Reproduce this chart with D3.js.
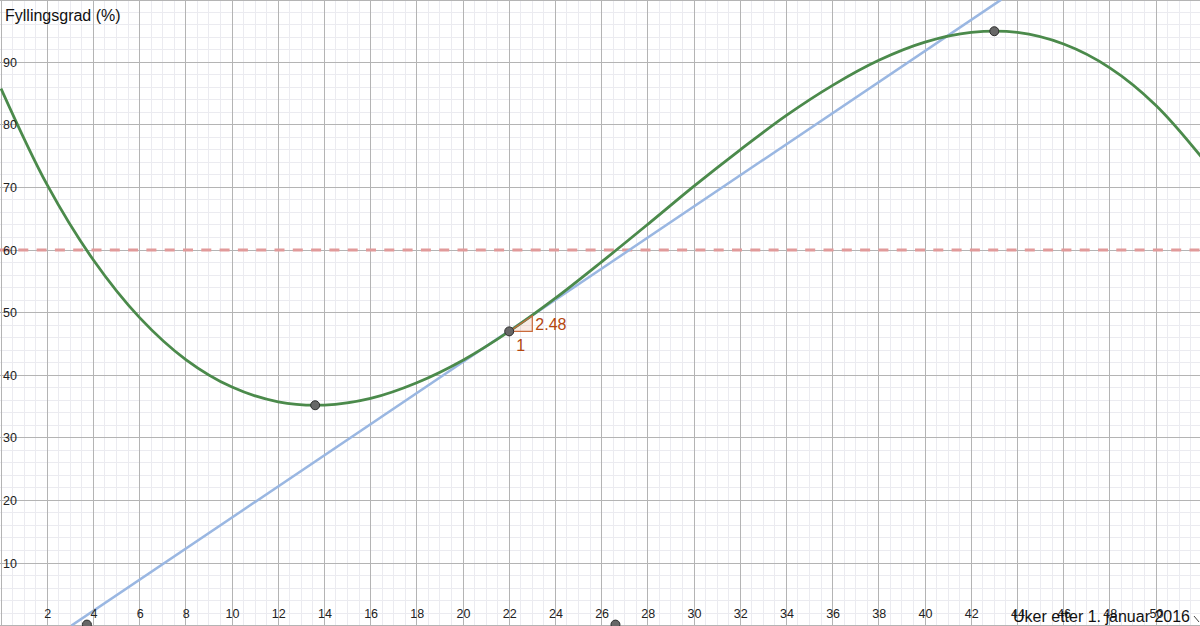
<!DOCTYPE html>
<html><head><meta charset="utf-8">
<script src="https://cdn.jsdelivr.net/npm/d3@7"></script>
<style>
html,body{margin:0;padding:0;background:#fff;}
svg{display:block;font-family:"Liberation Sans",Arial,Helvetica,sans-serif;}
</style></head>
<body>
<svg id="chart" width="1200" height="626"></svg>
<script>
// ---- data ----
const weeks = [0,2,4,6,8,10,12,14,16,18,20,22,24,26,28,30,32,34,36,38,40,42,44,46,48,50,52];
const fillGrade = [85.8,70.4,58.4,49.2,42.5,38.1,35.75,35.23,36.3,38.8,42.4,47.0,52.3,58.1,64.1,70.2,76.0,81.5,86.3,90.3,93.2,94.75,94.75,92.9,89.1,83.1,74.7];
const markX = [13.6, 22, 43, 3.72, 26.6];
const markY = [35.2, 47, 94.95, 0, 0];
const tangentX = [3.05, 43.3];
const tangentY = [0, 100];
const tangentPoint = [22, 47];
const slopeValue = 2.48;
const thresholdValue = 60;
const xTickValues = [2,4,6,8,10,12,14,16,18,20,22,24,26,28,30,32,34,36,38,40,42,44,46,48,50];
const yTickValues = [10,20,30,40,50,60,70,80,90];
const xTitle = "Uker etter 1. januar 2016";
const yTitle = "Fyllingsgrad (%)";

const W = 1200, H = 626;
const svg = d3.select("#chart");
const x = d3.scaleLinear().domain([0, 52]).range([1, 1202.2]);
const y = d3.scaleLinear().domain([0, 100]).range([625.6, -0.4]);

svg.append("defs").append("clipPath").attr("id","clip")
  .append("rect").attr("x",0).attr("y",0).attr("width",W).attr("height",H);

const g = svg.append("g").attr("clip-path","url(#clip)");

// minor grid
const xMinor = d3.range(0, 52.01, 0.5);
const yMinor = d3.range(0, 100.01, 2);
g.append("g").selectAll("line").data(xMinor).join("line")
  .attr("x1", d=>x(d)).attr("x2", d=>x(d)).attr("y1",0).attr("y2",H)
  .attr("stroke","#ebebf0").attr("stroke-width",1).attr("shape-rendering","crispEdges");
g.append("g").selectAll("line").data(yMinor).join("line")
  .attr("y1", d=>y(d)).attr("y2", d=>y(d)).attr("x1",0).attr("x2",W)
  .attr("stroke","#ebebf0").attr("stroke-width",1).attr("shape-rendering","crispEdges");
// major grid
const xMajor = d3.range(0, 52.01, 2);
const yMajor = d3.range(0, 100.01, 10);
g.append("g").selectAll("line").data(xMajor).join("line")
  .attr("x1", d=>x(d)).attr("x2", d=>x(d)).attr("y1",0).attr("y2",H)
  .attr("stroke","#b4b4b4").attr("stroke-width",1).attr("shape-rendering","crispEdges");
g.append("g").selectAll("line").data(yMajor).join("line")
  .attr("y1", d=>y(d)).attr("y2", d=>y(d)).attr("x1",0).attr("x2",W)
  .attr("stroke","#b4b4b4").attr("stroke-width",1).attr("shape-rendering","crispEdges");

// top border
g.append("line").attr("x1",0).attr("x2",W).attr("y1",0.5).attr("y2",0.5)
  .attr("stroke","#b4b4b4");

// axes (tick labels via d3 axes)
const yAxis = d3.axisRight(y).tickValues(yTickValues).tickSize(0).tickPadding(0).tickFormat(d3.format("d"));
const yG = svg.append("g").attr("transform","translate(3,0)").call(yAxis);
yG.select(".domain").remove();
yG.selectAll("text").attr("font-size",12.5).attr("fill","#222").attr("font-family","Liberation Sans, Arial, sans-serif");

const xAxis = d3.axisBottom(x).tickValues(xTickValues).tickSize(0).tickPadding(0).tickFormat(d3.format("d"));
const xG = svg.append("g").attr("transform","translate(0,609)").call(xAxis);
xG.select(".domain").remove();
xG.selectAll("text").attr("font-size",12.5).attr("fill","#222").attr("dy","0.71em").attr("font-family","Liberation Sans, Arial, sans-serif");

// threshold dashed line
g.append("line").attr("x1",0).attr("x2",W)
  .attr("y1", y(thresholdValue)).attr("y2", y(thresholdValue))
  .attr("stroke","#e19a9a").attr("stroke-width",3).attr("stroke-dasharray","10,8.3");

// tangent line
const tangentData = tangentX.map((d,i)=>[d, tangentY[i]]);
g.append("path").datum(tangentData)
  .attr("d", d3.line().x(d=>x(d[0])).y(d=>y(d[1])))
  .attr("stroke","#9ab7e2").attr("stroke-width",2.5).attr("fill","none");

// curve
const curveData = weeks.map((w,i)=>[w, fillGrade[i]]);
g.append("path").datum(curveData)
  .attr("d", d3.line().x(d=>x(d[0])).y(d=>y(d[1])).curve(d3.curveCatmullRom.alpha(0.5)))
  .attr("stroke","#4b8a4b").attr("stroke-width",2.8).attr("fill","none");

// slope triangle
const [tx, ty] = tangentPoint;
const tri = [[tx,ty],[tx+1,ty],[tx+1,ty+slopeValue]];
g.append("path").datum(tri)
  .attr("d", d3.line().x(d=>x(d[0])).y(d=>y(d[1]))(tri) + "Z")
  .attr("fill","rgba(204,90,40,0.12)").attr("stroke","#c96a3c").attr("stroke-width",1.2);
svg.append("text").attr("x", x(tx+1)+3).attr("y", y(ty+slopeValue/2)+6)
  .attr("font-size",16).attr("fill","#b4470f").text(d3.format(".2f")(slopeValue));
svg.append("text").attr("x", x(tx+0.5)).attr("y", y(ty)+20).attr("text-anchor","middle")
  .attr("font-size",16).attr("fill","#b4470f").text("1");

// points
g.append("g").selectAll("circle").data(markX.map((d,i)=>[d, markY[i]])).join("circle")
  .attr("cx", d=>x(d[0])).attr("cy", d=>y(d[1])+(d[1]===0?-1:0)).attr("r",4.5)
  .attr("fill","#676767").attr("stroke","#2e2e2e").attr("stroke-width",1);

// axis titles
svg.append("text").attr("x",5).attr("y",21).attr("font-size",16).attr("fill","#111").text(yTitle);
svg.append("text").attr("x",1190).attr("y",622).attr("text-anchor","end").attr("font-size",16).attr("fill","#111").text(xTitle);

// small axis arrow at bottom right
svg.append("line").attr("x1",1194).attr("y1",616).attr("x2",1199).attr("y2",622)
  .attr("stroke","#444").attr("stroke-width",1);
</script>
</body></html>
